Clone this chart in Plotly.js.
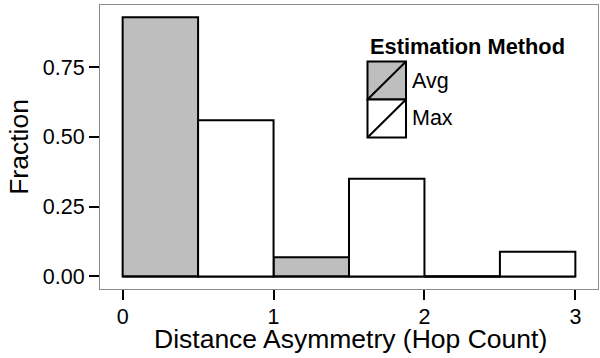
<!DOCTYPE html>
<html>
<head>
<meta charset="utf-8">
<script src="https://cdn.plot.ly/plotly-3.0.1.min.js"></script>
<style>html,body{margin:0;padding:0;background:#fff;}#chart{width:600px;height:358px;}</style>
</head>
<body>
<div id="chart"></div>
<script>
// Data (bin width 0.5)
const binCenters = [0.25, 0.75, 1.25, 1.75, 2.25, 2.75];
const avgFraction = [0.928, 0, 0.069, 0, 0, 0];
const maxFraction = [0, 0.559, 0, 0.350, 0, 0.088];
const xTickVals = [0, 1, 2, 3];
const yTickVals = [0, 0.25, 0.5, 0.75];
const yTickText = ["0.00", "0.25", "0.50", "0.75"];
const seriesNames = ["Avg", "Max"];
const xTitle = "Distance Asymmetry (Hop Count)";
const yTitle = "Fraction";
const legendTitle = "Estimation Method";
const binWidth = 0.5;

const FONT = "Liberation Sans, Arial, Helvetica, sans-serif";
const W = 600, H = 358;
const M = {l: 100, r: 2, t: 5, b: 69};
const pw = W - M.l - M.r, ph = H - M.t - M.b;
const px = x => (x - M.l) / pw;
const py = y => (H - M.b - y) / ph;

const barLine = {color: "#000", width: 2};
const traces = [
  {type: "bar", name: seriesNames[0], x: binCenters, y: avgFraction, width: binWidth,
   marker: {color: "#bebebe", line: barLine}, showlegend: false, hoverinfo: "x+y"},
  {type: "bar", name: seriesNames[1], x: binCenters, y: maxFraction, width: binWidth,
   marker: {color: "#ffffff", line: barLine}, showlegend: false, hoverinfo: "x+y"}
];
// empty bins are drawn as a flat outline at zero
binCenters.forEach((c, i) => {
  if (avgFraction[i] + maxFraction[i] === 0) {
    traces.push({type: "scatter", mode: "lines", x: [c - binWidth / 2, c + binWidth / 2],
      y: [0, 0], line: {color: "#000", width: 2}, showlegend: false, hoverinfo: "skip"});
  }
});

// custom ggplot-style legend
const keyX0 = 367.5, keyX1 = 406, keyTops = [61.5, 99.5], keyH = 38;
const fills = ["#bebebe", "#ffffff"];
const shapes = [], annotations = [];
keyTops.forEach((t, i) => {
  shapes.push({type: "rect", xref: "paper", yref: "paper", x0: px(keyX0), x1: px(keyX1),
    y0: py(t + keyH), y1: py(t), fillcolor: fills[i], line: {color: "#000", width: 2}, layer: "above"});
  shapes.push({type: "line", xref: "paper", yref: "paper", x0: px(keyX0), x1: px(keyX1),
    y0: py(t + keyH), y1: py(t), line: {color: "#000", width: 2}, layer: "above"});
  annotations.push({xref: "paper", yref: "paper", x: px(410), y: py(t + keyH / 2),
    xanchor: "left", yanchor: "middle", text: seriesNames[i], showarrow: false,
    font: {family: FONT, size: 21.5, color: "#000"}});
});
annotations.push({xref: "paper", yref: "paper", x: px(368), y: py(46), xanchor: "left",
  yanchor: "middle", text: "<b>" + legendTitle + "</b>", showarrow: false,
  font: {family: FONT, size: 21.8, color: "#000"}});
// x axis title
annotations.push({xref: "paper", yref: "paper", x: px(350), y: py(339), xanchor: "center",
  yanchor: "middle", text: xTitle, showarrow: false,
  font: {family: FONT, size: 26.5, color: "#000"}});

const layout = {
  width: W, height: H,
  margin: M,
  paper_bgcolor: "#fff", plot_bgcolor: "#fff",
  barmode: "overlay",
  showlegend: false,
  font: {family: FONT, color: "#000"},
  xaxis: {
    range: [-0.15, 3.15], tickvals: xTickVals, ticktext: xTickVals.map(String),
    showgrid: false, zeroline: false,
    showline: true, linecolor: "#8c8c8c", linewidth: 1, mirror: true,
    ticks: "outside", ticklen: 10, tickwidth: 2, tickcolor: "#000",
    ticklabelstandoff: -2,
    tickfont: {family: FONT, size: 21.5, color: "#000"}
  },
  yaxis: {
    range: [-0.045, 0.972], tickvals: yTickVals, ticktext: yTickText,
    showgrid: false, zeroline: false,
    showline: true, linecolor: "#8c8c8c", linewidth: 1, mirror: true,
    ticks: "outside", ticklen: 10, tickwidth: 2, tickcolor: "#000",
    tickfont: {family: FONT, size: 21.5, color: "#000"},
    title: {text: yTitle, font: {family: FONT, size: 26.5, color: "#000"}, standoff: 6}
  },
  shapes: shapes,
  annotations: annotations
};
Plotly.newPlot("chart", traces, layout, {displayModeBar: false, staticPlot: true});
</script>
</body>
</html>
